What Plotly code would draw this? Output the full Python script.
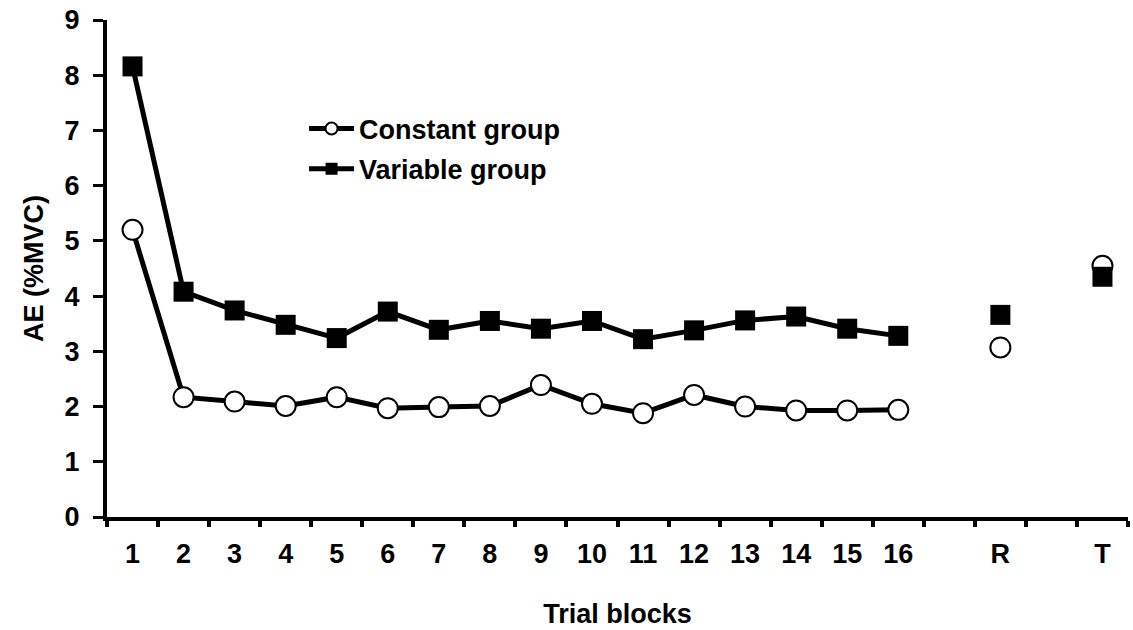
import plotly.graph_objects as go

# ---- data ----
categories = [str(i) for i in range(1, 17)] + [" ", "R", "  ", "T"]
constant_group = [5.20, 2.17, 2.09, 2.01, 2.17, 1.97, 1.99, 2.01, 2.39, 2.05,
                  1.88, 2.21, 2.00, 1.93, 1.93, 1.94, None, 3.07, None, 4.55]
variable_group = [8.16, 4.08, 3.74, 3.48, 3.24, 3.72, 3.39, 3.55, 3.41, 3.55,
                  3.22, 3.38, 3.56, 3.63, 3.41, 3.28, None, 3.66, None, 4.35]
y_ticks = list(range(0, 10))

FONT = "Liberation Sans, Arial, sans-serif"
FS = 27

fig = go.Figure()
fig.add_trace(go.Scatter(
    x=categories, y=constant_group, name="Constant group",
    mode="lines+markers", connectgaps=False, legendgroup="c",
    line=dict(color="black", width=5),
    marker=dict(symbol="circle", size=20, color="white",
                line=dict(color="black", width=2)),
))
fig.add_trace(go.Scatter(
    x=categories, y=variable_group, name="Variable group",
    mode="lines+markers", connectgaps=False, legendgroup="v",
    line=dict(color="black", width=5),
    marker=dict(symbol="square", size=20, color="black",
                line=dict(color="black", width=0)),
))

fig.update_layout(
    width=1133, height=630,
    margin=dict(l=107, r=5, t=20, b=113),
    paper_bgcolor="white", plot_bgcolor="white",
    font=dict(family=FONT, size=FS, color="black", weight="bold"),
    showlegend=True,
    legend=dict(x=0.193, y=0.83, xanchor="left", yanchor="top",
                bgcolor="rgba(0,0,0,0)", traceorder="grouped",
                tracegroupgap=2, itemwidth=45, itemsizing="constant",
                font=dict(family=FONT, size=FS, color="black", weight="bold")),
    xaxis=dict(
        type="category", categoryorder="array", categoryarray=categories,
        range=[-0.5, len(categories) - 0.5],
        tickson="boundaries", ticks="outside", ticklen=6, tickwidth=4,
        tickcolor="black", showline=True, linewidth=4, linecolor="black",
        showgrid=False, zeroline=False, ticklabelstandoff=10,
        tickfont=dict(family=FONT, size=FS, weight="bold"),
        title=dict(text="Trial blocks", standoff=37,
                   font=dict(family=FONT, size=FS, weight="bold")),
    ),
    yaxis=dict(
        range=[0, 9], tickvals=y_ticks, ticks="outside", ticklen=10,
        tickwidth=3, tickcolor="black", showline=True, linewidth=4,
        linecolor="black", showgrid=False, zeroline=False,
        ticklabelstandoff=8,
        tickfont=dict(family=FONT, size=FS, weight="bold"),
        title=dict(text="AE (%MVC)", standoff=14,
                   font=dict(family=FONT, size=FS, weight="bold")),
    ),
)

fig.write_html("out.html", config={"displayModeBar": False},
               post_script="document.body.style.margin='0';")
